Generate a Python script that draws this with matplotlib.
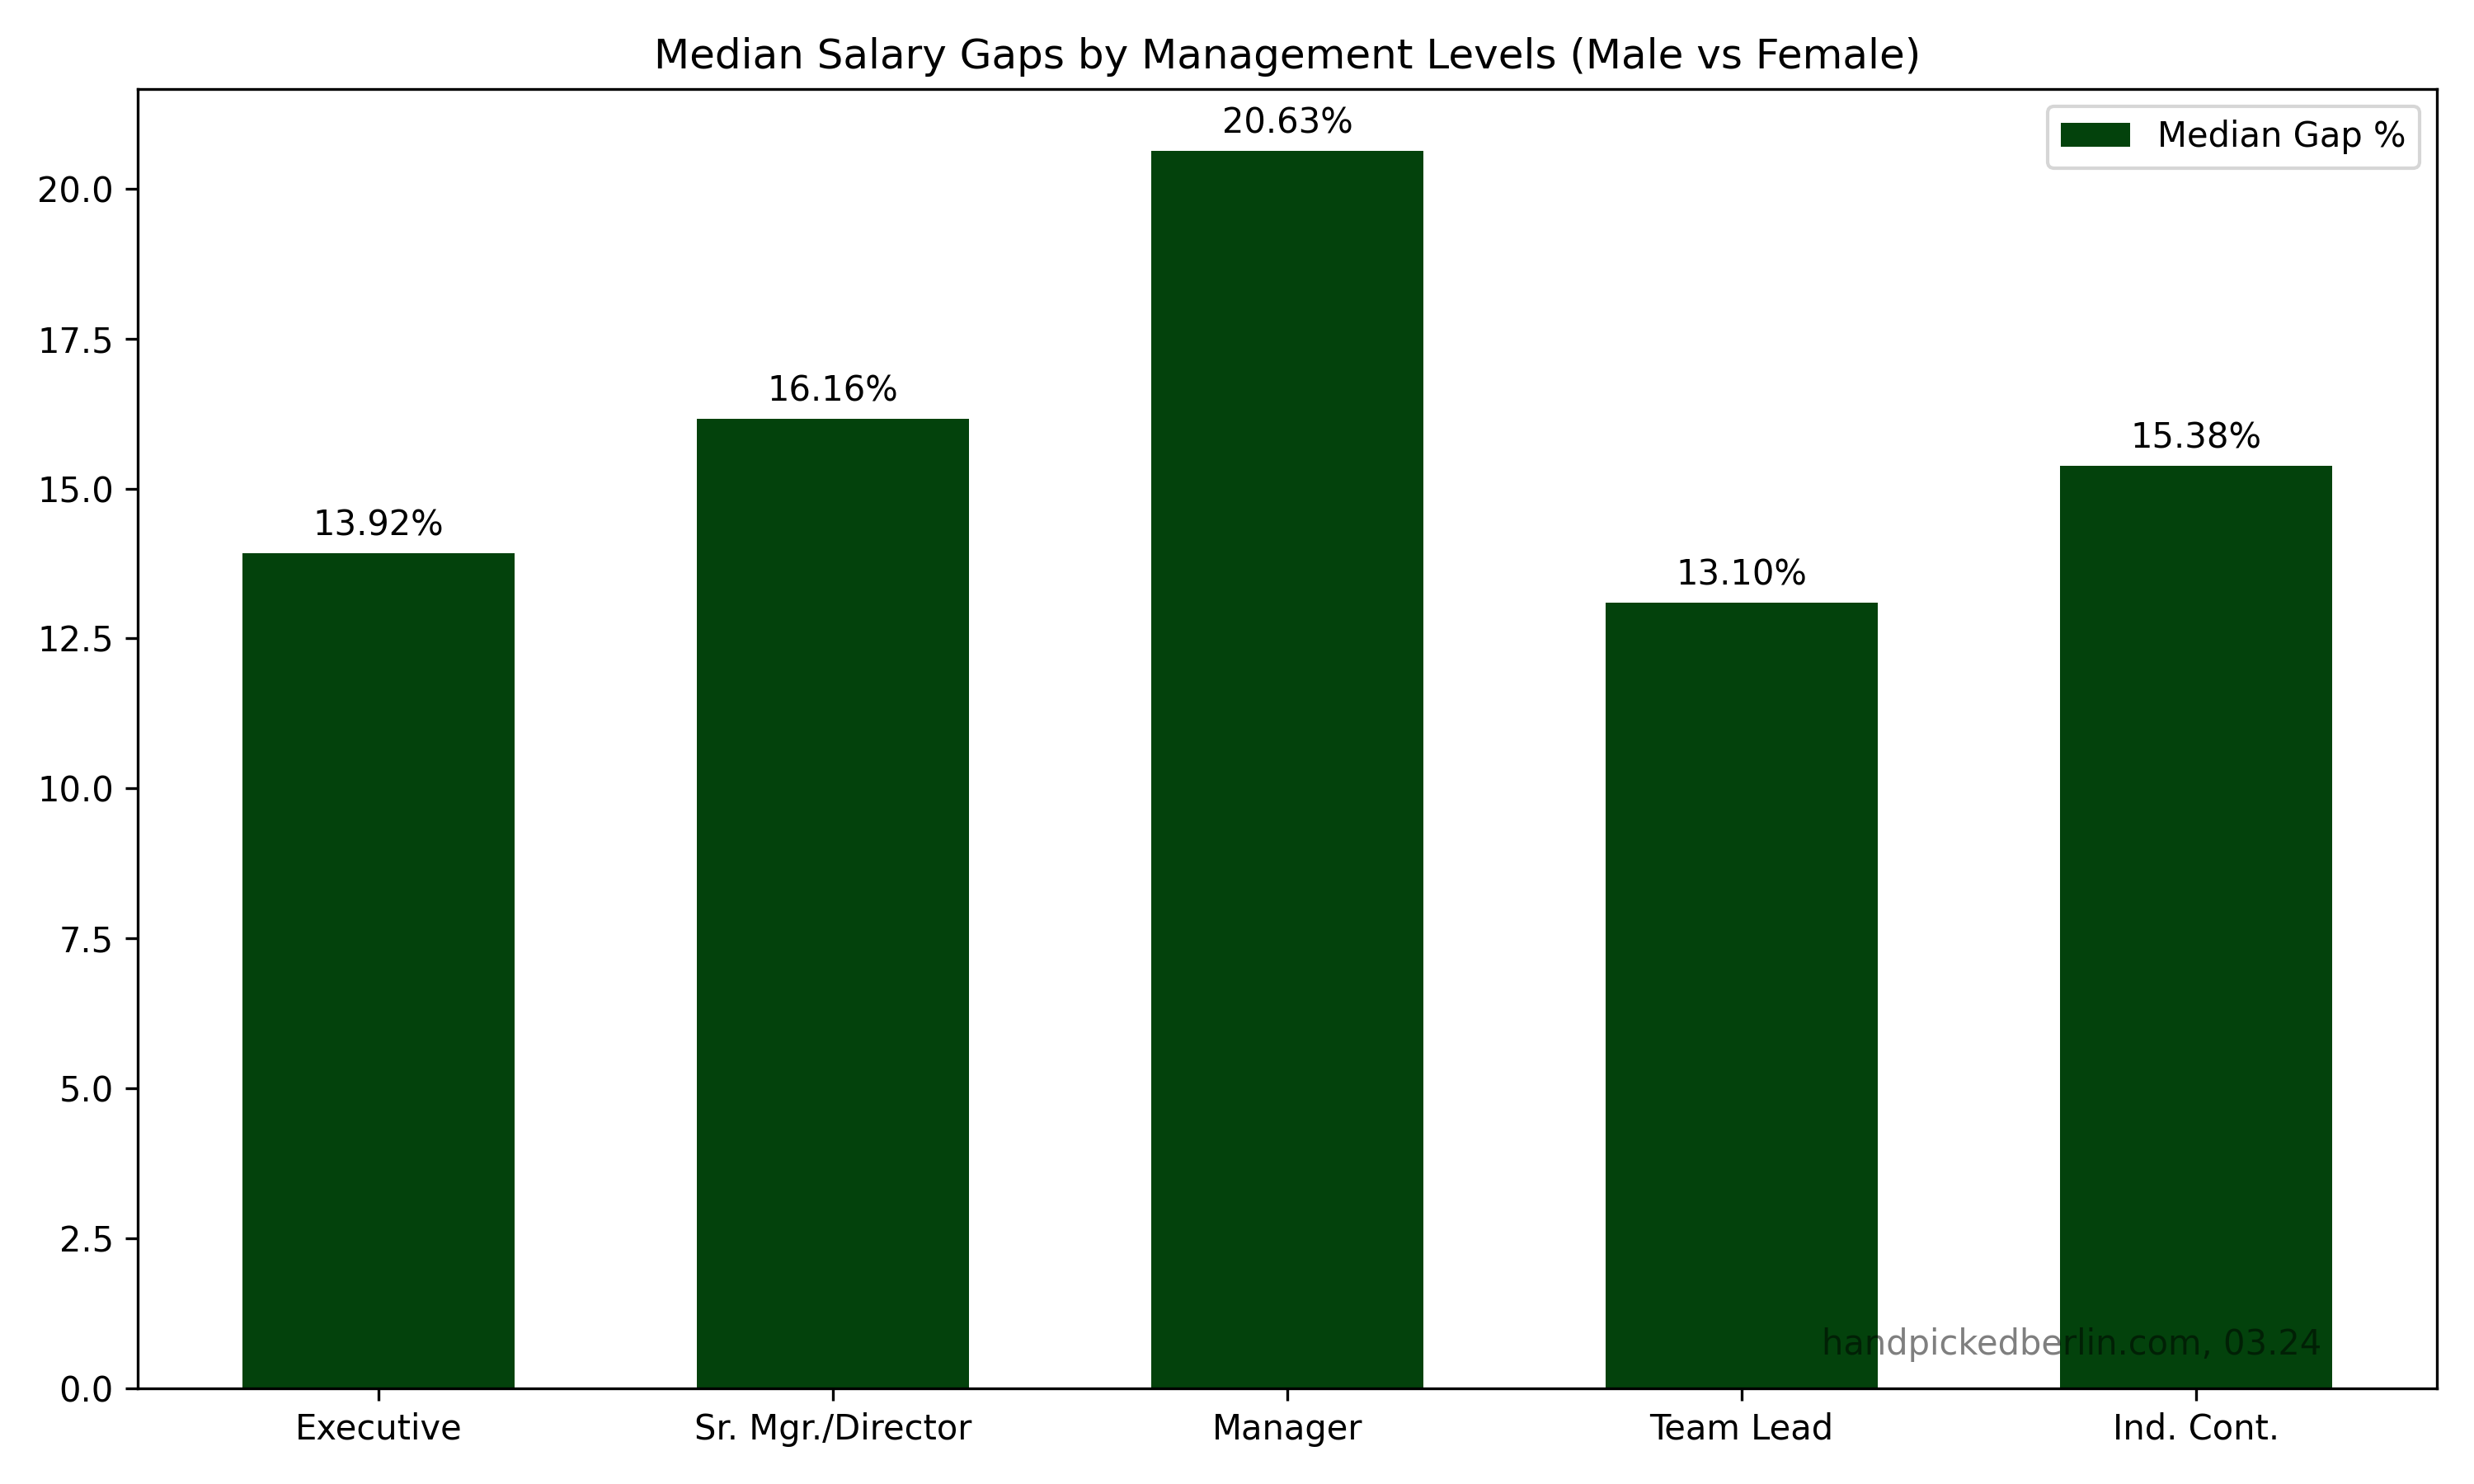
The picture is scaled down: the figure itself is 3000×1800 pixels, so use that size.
import matplotlib
matplotlib.use("Agg")
import matplotlib.pyplot as plt
import numpy as np

levels = ['Executive', 'Sr. Mgr./Director', 'Manager', 'Team Lead', 'Ind. Cont.']
median_gap = [13.92, 16.16, 20.63, 13.10, 15.38]

fig, ax = plt.subplots(figsize=(10, 6), dpi=300)
x = np.arange(len(levels))
bars = ax.bar(x, median_gap, width=0.6, color='#03420c', label='Median Gap %')

for b in bars:
    h = b.get_height()
    ax.annotate(f'{h:.2f}%', xy=(b.get_x() + b.get_width() / 2, h),
                xytext=(0, 3), textcoords='offset points', ha='center', va='bottom')

ax.set_xticks(x)
ax.set_xticklabels(levels)
ax.set_title('Median Salary Gaps by Management Levels (Male vs Female)')
ax.legend(loc='upper right')

# watermark
ax.text(0.95, 0.02, 'handpickedberlin.com, 03.24', transform=ax.transAxes,
        ha='right', va='bottom', fontsize=10, color='black', alpha=0.5)

plt.tight_layout()
plt.savefig('out.png', dpi=300)
